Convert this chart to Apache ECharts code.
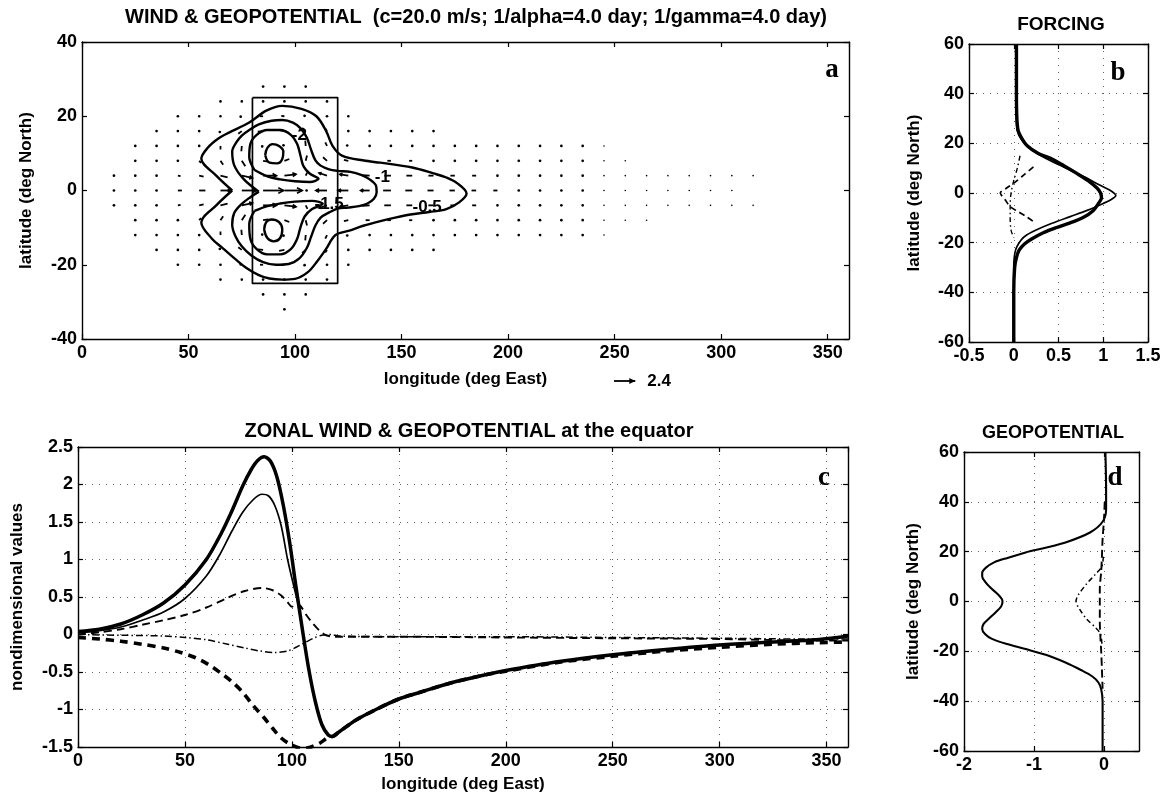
<!DOCTYPE html>
<html><head><meta charset="utf-8">
<script src="https://cdn.jsdelivr.net/npm/echarts@6/dist/echarts.min.js"></script>
<style>html,body{margin:0;padding:0;background:#fff}#c{width:1170px;height:802px}</style>
</head><body><div id="c"></div>
<script>
// ---------------- DATA ----------------
// Panel a: contours of geopotential [lon, lat]
const contourOuter = [[70.5,0],[63,4],[56,8.6],[59,11.5],[64,14],[69,15.6],[78.5,18.3],[86.5,21.5],[94,22.8],[103,22],[110,20],[114.6,16],[117.6,12],[122,9.4],[133,8],[140,7.5],[155,6.2],[165,4.6],[171,3.5],[176,2],[180.5,-0.8],[177,-3.2],[171,-5],[163,-5.8],[155,-6.4],[147,-7.3],[139.6,-8.3],[132,-9.5],[125.5,-10.8],[119,-12],[114.5,-15.8],[110.5,-19],[106,-22],[100,-23.8],[94,-24],[88,-23.7],[83,-22.8],[77,-20.8],[72,-18.5],[66,-15.5],[61,-13],[56,-8.6],[63,-4],[70.5,0]];
const contourMid = [[83,-0.3],[76,3],[71.5,6.7],[70.5,10.5],[72.5,13],[75,14.8],[79,16.5],[83,17.8],[89,18.8],[94,19],[99,18.3],[102.5,16.8],[105.5,14.3],[107.5,11],[109.5,8.2],[112,6.7],[116,5.7],[120,5.3],[126,5],[131,4.2],[135,3],[138,1.3],[138.3,-0.5],[137,-2.2],[134,-3.5],[130,-4.2],[125,-4.6],[120,-4.9],[116,-5.9],[112,-7.3],[109.5,-9.5],[107.5,-12.5],[105.5,-15.5],[102,-18.3],[97,-19.8],[91,-20],[85,-19.3],[79.5,-17.5],[75,-15],[72,-12.3],[70.5,-9.2],[71.5,-6],[75,-3.6],[79,-1.8],[83,-0.3]];
const contourInnerN = [[81,5.5],[78.5,9],[79,12.5],[82,15],[87,16.3],[93,16.3],[98,15],[101,12.5],[102.5,9.5],[104,6.5],[107,4.5],[111,3.2],[107,2.3],[100,2.5],[93,3],[87,3.8],[81,5.5]];
const contourInnerS = [[81,-5.5],[78.5,-9],[79,-13],[82,-15.8],[87,-17.2],[93,-17.2],[98,-15.8],[101,-13],[102.5,-10],[104.5,-7],[108,-5],[113,-3.6],[108,-2.8],[100,-3],[93,-3.5],[87,-4.2],[81,-5.5]];
const contourCoreN = [[86,9.5],[87,11.5],[89.5,12.5],[92.5,12],[94.5,10.5],[94,8.5],[91.5,7.3],[88,7.5],[86,9.5]];
const contourCoreS = [[85.5,-10.5],[86.5,-8.5],[89,-7.8],[92.5,-8.5],[94,-10.5],[93,-12.8],[90,-13.7],[87,-12.8],[85.5,-10.5]];
const contourLabelText = ['-2', '-1', '-1.5', '-0.5'];
const contourLabelPos = [[102,15],[141,3.5],[116,-3.6],[162,-4.6]];
const forcingBoxLon = [80, 120];
const forcingBoxLat = [-25, 25];
// wind vectors [lon, lat, u, v]
const windArrows = [
 [45,0,0.45,0],[55,0,0.7,0],[65,0,1.15,0],[75,0,1.65,0],[85,0,2.3,0],[95,0,2.0,0],[105,0,0.2,0],[115,0,-1.25,0],[125,0,-1.15,0],[135,0,-1.0,0],[145,0,-0.88,0],[155,0,-0.78,0],[165,0,-0.68,0],[175,0,-0.6,0],[185,0,-0.52,0],[195,0,-0.46,0],
 [45,4,0.3,-0.05],[55,4,0.5,-0.1],[65,4,0.8,-0.2],[75,4,1.2,-0.25],[85,4,1.5,0],[95,4,1.3,0.15],[105,4,0.2,0.4],[115,4,-0.9,0.3],[125,4,-0.95,0.15],[135,4,-0.85,0.05],[145,4,-0.75,0],[155,4,-0.66,0],[165,4,-0.58,0],[175,4,-0.5,0],[185,4,-0.45,0],
 [45,-4,0.3,0.05],[55,-4,0.5,0.1],[65,-4,0.8,0.2],[75,-4,1.2,0.25],[85,-4,1.5,0],[95,-4,1.3,-0.15],[105,-4,0.2,-0.4],[115,-4,-0.9,-0.3],[125,-4,-0.95,-0.15],[135,-4,-0.85,-0.05],[145,-4,-0.75,0],[155,-4,-0.66,0],[165,-4,-0.58,0],[175,-4,-0.5,0],[185,-4,-0.45,0],
 [55,8,0.2,-0.25],[65,8,0.3,-0.45],[75,8,0.4,-0.6],[85,8,0.6,-0.1],[95,8,0.55,0.2],[105,8,0.15,0.6],[115,8,-0.45,0.4],[125,8,-0.5,0.1],[135,8,-0.45,0],[145,8,-0.4,0],[155,8,-0.35,0],
 [55,-8,0.2,0.25],[65,-8,0.3,0.45],[75,-8,0.4,0.6],[85,-8,0.6,0.1],[95,-8,0.55,-0.2],[105,-8,0.15,-0.6],[115,-8,-0.45,-0.4],[125,-8,-0.5,-0.1],[135,-8,-0.45,0],[145,-8,-0.4,0],[155,-8,-0.35,0],
 [65,12,0,-0.4],[75,12,-0.05,-0.6],[85,12,-0.2,-0.1],[95,12,-0.2,0.15],[105,12,-0.05,0.6],[115,12,-0.2,0.4],[125,12,-0.25,0.1],
 [65,-12,0,0.4],[75,-12,-0.05,0.6],[85,-12,-0.2,0.1],[95,-12,-0.2,-0.15],[105,-12,-0.05,-0.6],[115,-12,-0.2,-0.4],[125,-12,-0.25,-0.1],
 [65,16,-0.15,-0.2],[75,16,-0.4,-0.3],[85,16,-0.6,-0.05],[95,16,-0.6,0.1],[105,16,-0.4,0.35],[115,16,-0.2,0.3],
 [65,-16,-0.15,0.2],[75,-16,-0.4,0.3],[85,-16,-0.6,0.05],[95,-16,-0.6,-0.1],[105,-16,-0.4,-0.35],[115,-16,-0.2,-0.3],
 [75,20,-0.25,-0.1],[85,20,-0.35,0],[95,20,-0.35,0.05],[105,20,-0.25,0.1],
 [75,-20,-0.25,0.1],[85,-20,-0.35,0],[95,-20,-0.35,-0.05],[105,-20,-0.25,-0.1]
];
// rows of tiny (dot-like) wind vectors on the model grid
const dotRowLat   = [28, 24, 20, 16, 12, 8, 4, 0, -4, -8, -12, -16, -20, -24, -28, -32];
const dotRowStart = [85, 65, 45, 35, 25, 25, 15, 15, 15, 25, 25, 35, 45, 65, 85, 95];
const dotRowEnd   = [105,115,125,165,245,255,315,305,315,265,245,165,125,115,105,95];
const keyArrowValue = 2.4;

// Panel b: forcing profiles [value, lat]
const forcingThick = [[0.03,60],[0.03,40],[0.035,30],[0.05,25],[0.09,22],[0.15,19],[0.27,16],[0.41,14],[0.56,11],[0.7,8],[0.83,5],[0.93,2],[0.97,0],[0.98,-2],[0.95,-4],[0.89,-7],[0.77,-10],[0.63,-12],[0.47,-14],[0.33,-16],[0.2,-18.5],[0.12,-20.5],[0.06,-23],[0.03,-26],[0.01,-30],[0,-40],[0,-60]];
const forcingThin = [[0.03,60],[0.03,30],[0.04,25],[0.09,21.3],[0.18,18],[0.29,15.3],[0.45,12.3],[0.63,9.3],[0.8,6.3],[0.96,3.2],[1.08,1],[1.14,-1],[1.08,-2.8],[1.0,-4.2],[0.82,-7],[0.63,-9.5],[0.42,-12.3],[0.25,-14.9],[0.14,-17],[0.08,-19],[0.02,-23],[0.0,-30],[0,-60]];
const forcingDashed = [[0.22,10.5],[0.12,7.5],[0.02,4.5],[-0.08,2],[-0.15,0],[-0.1,-2.5],[-0.04,-5.5],[0.05,-7.5],[0.14,-9.5],[0.22,-11.5]];
const forcingDashDot = [[0.07,15],[0.04,10],[0.0,5],[-0.03,0],[-0.04,-5],[-0.04,-10],[-0.03,-15],[0.0,-18]];

// Panel c: values at the equator [lon, value]
const eqThickSolid = [[0,0.04],[10,0.07],[20,0.14],[30,0.26],[40,0.42],[50,0.66],[60,1.0],[67,1.35],[72,1.65],[77,1.98],[81,2.2],[84,2.32],[87,2.37],[90,2.31],[93,2.1],[96,1.72],[99,1.22],[102,0.62],[105,0.05],[108,-0.48],[111,-0.9],[114,-1.2],[117,-1.34],[119,-1.36],[122,-1.3],[130,-1.14],[140,-0.99],[150,-0.86],[160,-0.77],[175,-0.64],[190,-0.54],[200,-0.48],[225,-0.36],[250,-0.27],[275,-0.2],[300,-0.14],[325,-0.1],[345,-0.07],[355,-0.04],[360,-0.02]];
const eqThinSolid = [[0,0.02],[10,0.05],[20,0.1],[30,0.19],[40,0.3],[50,0.48],[60,0.78],[66,1.05],[72,1.38],[77,1.63],[82,1.8],[86,1.87],[89,1.85],[92,1.72],[95,1.45],[98,1.0],[101,0.63],[103,0.4],[105,0.05],[108,-0.48],[111,-0.9],[114,-1.2],[117,-1.34],[119,-1.36],[122,-1.3],[130,-1.14],[140,-0.99],[150,-0.86],[160,-0.77],[175,-0.64],[190,-0.54],[200,-0.48],[225,-0.36],[250,-0.27],[275,-0.2],[300,-0.14],[325,-0.1],[345,-0.07],[355,-0.04],[360,-0.02]];
const eqThinDashed = [[0,0.0],[10,0.03],[20,0.07],[30,0.13],[40,0.19],[50,0.26],[60,0.36],[70,0.49],[78,0.58],[86,0.62],[91,0.59],[95,0.52],[98,0.43],[100,0.37],[102,0.41],[104,0.38],[107,0.25],[110,0.14],[113,0.05],[116,-0.01],[120,-0.03],[150,-0.03],[200,-0.04],[250,-0.05],[300,-0.06],[340,-0.08],[360,-0.08]];
const eqDashDot = [[0,0.0],[20,-0.01],[40,-0.02],[50,-0.04],[60,-0.07],[70,-0.13],[78,-0.18],[85,-0.22],[92,-0.24],[98,-0.22],[102,-0.17],[106,-0.11],[110,-0.05],[114,-0.01],[118,0.0],[122,-0.02],[150,-0.03],[200,-0.03],[250,-0.04],[300,-0.05],[340,-0.06],[360,-0.06]];
const eqThickDashed = [[0,-0.04],[10,-0.06],[20,-0.09],[30,-0.13],[40,-0.18],[48,-0.24],[55,-0.31],[61,-0.4],[67,-0.52],[72,-0.63],[77,-0.77],[82,-0.95],[87,-1.11],[91,-1.25],[95,-1.38],[99,-1.46],[103,-1.51],[106,-1.52],[109,-1.5],[113,-1.45],[117,-1.37],[119,-1.36],[122,-1.3],[130,-1.14],[140,-0.99],[150,-0.86],[160,-0.77],[175,-0.64],[190,-0.54],[200,-0.49],[225,-0.37],[250,-0.29],[275,-0.22],[300,-0.17],[325,-0.13],[345,-0.11],[360,-0.1]];

// Panel d: geopotential profiles [value, lat]
const geoSolid = [[0.02,60],[0.03,45],[0.03,37],[-0.02,32],[-0.2,27.7],[-0.55,23.7],[-0.85,21.5],[-1.12,19.7],[-1.38,17.5],[-1.57,15.7],[-1.69,13.5],[-1.74,11.5],[-1.74,10],[-1.7,8],[-1.62,5.5],[-1.52,3],[-1.46,1],[-1.45,0],[-1.47,-2],[-1.55,-4.4],[-1.65,-7],[-1.72,-9],[-1.74,-11],[-1.7,-13],[-1.6,-15],[-1.4,-17],[-1.12,-19.1],[-0.82,-21.5],[-0.55,-24.5],[-0.33,-27.5],[-0.17,-30],[-0.08,-32.5],[-0.04,-35.2],[-0.02,-40],[-0.02,-60]];
const geoDashed = [[0.01,40],[0.0,33],[-0.02,25],[-0.03,18],[-0.04,12],[-0.06,5],[-0.06,0],[-0.06,-8],[-0.05,-15],[-0.04,-20],[-0.03,-27],[-0.02,-35]];
const geoDashDot = [[-0.01,18],[-0.03,14],[-0.12,11],[-0.25,7],[-0.37,2.5],[-0.4,0],[-0.35,-3],[-0.25,-7],[-0.12,-10.5],[-0.05,-13],[-0.03,-17]];

// ---------------- CHART ----------------
const FONT = "'Liberation Sans', Arial, Helvetica, sans-serif";
const SERIF = "'Liberation Serif', 'Times New Roman', serif";
const chart = echarts.init(document.getElementById('c'), null, {renderer: 'canvas'});

const grids = [
  {left: 82, top: 42, width: 767, height: 297},
  {left: 969, top: 44, width: 179, height: 298},
  {left: 78, top: 447, width: 770, height: 300},
  {left: 964, top: 452, width: 175, height: 299}
];
const axisSpecs = [
  {x:[0,360,50], y:[-40,40,20], grid:false, xName:'longitude (deg East)', xGap:32, yName:'latitude (deg North)', yGap:47, showMaxX:false},
  {x:[-0.5,1.5,0.5], y:[-60,60,20], grid:true, xName:'', xGap:0, yName:'latitude (deg North)', yGap:46, showMaxX:true},
  {x:[0,360,50], y:[-1.5,2.5,0.5], grid:true, xName:'longitude (deg East)', xGap:29, yName:'nondimensional values', yGap:52, showMaxX:false},
  {x:[-2,0.5,1], y:[-60,60,20], grid:true, xName:'', xGap:0, yName:'latitude (deg North)', yGap:42, showMaxX:false}
];
const lblStyle = {color:'#000', fontFamily: FONT, fontSize: 18, fontWeight: 'bold'};
const nameStyle = {color:'#000', fontFamily: FONT, fontSize: 17, fontWeight: 'bold'};
const gridLine = {color:'#666', type:[1,6], width:1};
const xAxes = [], yAxes = [];
axisSpecs.forEach((s, gi) => {
  const common = (min, max, itv) => ({type:'value', gridIndex: gi, min, max, interval: itv,
    axisLine:{show:true, onZero:false, lineStyle:{color:'#000', width:1.4}},
    axisTick:{show:true, inside:true, length:5, lineStyle:{color:'#000', width:1.2}}});
  xAxes.push(Object.assign(common(s.x[0], s.x[1], s.x[2]), {position:'bottom',
    name: s.xName, nameLocation:'middle', nameGap: s.xGap, nameTextStyle: nameStyle,
    axisLabel: Object.assign({margin: 5, showMaxLabel: s.showMaxX}, lblStyle),
    splitLine:{show: s.grid, lineStyle: gridLine}}));
  xAxes.push(Object.assign(common(s.x[0], s.x[1], s.x[2]), {position:'top', axisLabel:{show:false}, splitLine:{show:false}}));
  yAxes.push(Object.assign(common(s.y[0], s.y[1], s.y[2]), {position:'left',
    name: s.yName, nameLocation:'middle', nameGap: s.yGap, nameTextStyle: nameStyle,
    axisLabel: Object.assign({margin: 5}, lblStyle),
    splitLine:{show: s.grid, lineStyle: gridLine}}));
  yAxes.push(Object.assign(common(s.y[0], s.y[1], s.y[2]), {position:'right', axisLabel:{show:false}, splitLine:{show:false}}));
});

function lineSeries(gi, data, width, type, smooth) {
  return {type:'line', xAxisIndex: 2*gi, yAxisIndex: 2*gi, data, symbol:'none', smooth: smooth,
    animation:false, silent:true,
    lineStyle:{color:'#000', width, type: type || 'solid', cap:'butt', join:'round'}};
}

// Quiver data: explicit vectors + dot-like tiny vectors on the grid
const arrowKey = new Set(windArrows.map(a => a[0] + ',' + a[1]));
const quiverData = windArrows.slice();
dotRowLat.forEach((lat, i) => {
  for (let lon = dotRowStart[i]; lon <= dotRowEnd[i]; lon += 10) {
    if (!arrowKey.has(lon + ',' + lat)) quiverData.push([lon, lat, 0, 0]);
  }
});

const quiverSeries = {
  type:'custom', coordinateSystem:'cartesian2d', xAxisIndex:0, yAxisIndex:0, data: quiverData, animation:false, silent:true,
  renderItem: function (params, api) {
    const lon = api.value(0), lat = api.value(1), u = api.value(2), v = api.value(3);
    const p = api.coord([lon, lat]);
    const unit = api.size([10, 0])[0] / keyArrowValue;
    const dx = u * unit, dy = -v * unit;
    const len = Math.hypot(dx, dy);
    if (len < 2.4) {
      const r = lon > 235 ? 0.8 : 1.35;
      return {type:'circle', shape:{cx: p[0] + dx/2, cy: p[1] + dy/2, r}, style:{fill:'#000'}};
    }
    const x2 = p[0] + dx, y2 = p[1] + dy;
    const children = [{type:'line', shape:{x1:p[0], y1:p[1], x2, y2}, style:{stroke:'#000', lineWidth:1.8}}];
    if (len > 8) {
      const h = Math.min(0.33 * len, 6), a = Math.atan2(dy, dx), w = 0.5;
      children.push({type:'polyline', shape:{points:[[x2 - h*Math.cos(a-w), y2 - h*Math.sin(a-w)], [x2, y2], [x2 - h*Math.cos(a+w), y2 - h*Math.sin(a+w)]]},
        style:{stroke:'#000', fill:null, lineWidth:1.7}});
    }
    return {type:'group', children};
  }
};

const labelSeries = {
  type:'custom', coordinateSystem:'cartesian2d', xAxisIndex:0, yAxisIndex:0, data: contourLabelPos, animation:false, silent:true,
  renderItem: function (params, api) {
    const p = api.coord([api.value(0), api.value(1)]);
    return {type:'text', style:{text: contourLabelText[params.dataIndex], x:p[0], y:p[1], align:'center', verticalAlign:'middle',
      font: "bold 17px " + FONT, fill:'#000'}};
  }
};

const boxData = [[forcingBoxLon[0], forcingBoxLat[1]], [forcingBoxLon[1], forcingBoxLat[1]], [forcingBoxLon[1], forcingBoxLat[0]], [forcingBoxLon[0], forcingBoxLat[0]], [forcingBoxLon[0], forcingBoxLat[1]]];

const series = [
  quiverSeries,
  lineSeries(0, contourOuter, 2.4, 'solid', 0.35),
  lineSeries(0, contourMid, 2.4, 'solid', 0.35),
  lineSeries(0, contourInnerN, 2.4, 'solid', 0.35),
  lineSeries(0, contourInnerS, 2.4, 'solid', 0.35),
  lineSeries(0, contourCoreN, 2.4, 'solid', 0.4),
  lineSeries(0, contourCoreS, 2.4, 'solid', 0.4),
  lineSeries(0, boxData, 1.7, 'solid', false),
  labelSeries,
  lineSeries(1, forcingThin, 1.7, 'solid', 0.3),
  lineSeries(1, forcingThick, 3.4, 'solid', 0.3),
  lineSeries(1, forcingDashed, 1.7, [6,4], 0.3),
  lineSeries(1, forcingDashDot, 1.4, [5,3,1.5,3], 0.3),
  lineSeries(2, eqThinDashed, 1.9, [8,5], 0.3),
  lineSeries(2, eqDashDot, 1.5, [7,3,1.5,3], 0.3),
  lineSeries(2, eqThickDashed, 3.6, [8,6], 0.3),
  lineSeries(2, eqThinSolid, 1.7, 'solid', 0.3),
  lineSeries(2, eqThickSolid, 3.5, 'solid', 0.3),
  lineSeries(3, geoDashed, 1.9, [8,4], 0.3),
  lineSeries(3, geoDashDot, 1.5, [5,3,1.5,3], 0.3),
  lineSeries(3, geoSolid, 2.1, 'solid', 0.3)
];

chart.setOption({
  animation:false,
  backgroundColor:'#fff',
  grid: grids.map(g => Object.assign({show:false, containLabel:false, outerBoundsMode:'none'}, g)),
  xAxis: xAxes, yAxis: yAxes, series
});

// Titles, panel letters, quiver key
const p0 = chart.convertToPixel({xAxisIndex:0, yAxisIndex:0}, [0, 0]);
const p1 = chart.convertToPixel({xAxisIndex:0, yAxisIndex:0}, [10, 0]);
const keyLen = p1[0] - p0[0];
const kx = 614, ky = 381;
function txt(text, x, y, font, align) {
  return {type:'text', silent:true, style:{text, x, y, font, fill:'#000', align: align || 'center', verticalAlign:'middle'}};
}
chart.setOption({graphic: [
  txt('WIND & GEOPOTENTIAL  (c=20.0 m/s; 1/alpha=4.0 day; 1/gamma=4.0 day)', 476, 17, 'bold 20px ' + FONT),
  txt('FORCING', 1061, 25, 'bold 19px ' + FONT),
  txt('ZONAL WIND & GEOPOTENTIAL at the equator', 469, 431, 'bold 20px ' + FONT),
  txt('GEOPOTENTIAL', 1053, 433, 'bold 18px ' + FONT),
  txt('a', 832, 70, 'bold 27px ' + SERIF),
  txt('b', 1118, 73, 'bold 27px ' + SERIF),
  txt('c', 824, 478, 'bold 27px ' + SERIF),
  txt('d', 1115, 478, 'bold 27px ' + SERIF),
  {type:'line', silent:true, shape:{x1:kx, y1:ky, x2:kx + keyLen, y2:ky}, style:{stroke:'#000', lineWidth:1.8}},
  {type:'polygon', silent:true, shape:{points:[[kx + keyLen, ky], [kx + keyLen - 6, ky - 3], [kx + keyLen - 6, ky + 3]]}, style:{fill:'#000'}},
  txt(String(keyArrowValue), kx + keyLen + 12, ky, 'bold 17px ' + FONT, 'left')
]});
</script>
</body></html>
